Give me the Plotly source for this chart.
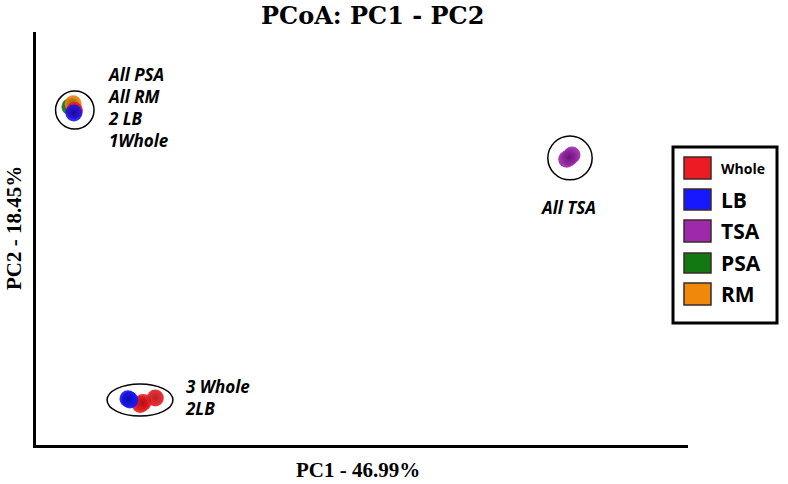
import plotly.graph_objects as go

# ---- data ----
groups = ["Whole", "LB", "TSA", "PSA", "RM"]
colors = {"Whole": "#ec1c22", "LB": "#1818ff", "TSA": "#9e2aab", "PSA": "#127812", "RM": "#f0880c"}
edge_colors = {"Whole": "#b00c10", "LB": "#0a0aa8", "TSA": "#6a1478", "PSA": "#0a4a0a", "RM": "#a85a06"}

# sample coordinates (PC1, PC2 in plot units)
pts_x = {
    "Whole": [5.9, 16.0, 16.4, 18.3],
    "LB":    [14.4, 14.1, 5.8],
    "TSA":   [81.4, 82.2, 81.8],
    "PSA":   [5.2],
    "RM":    [5.7],
}
pts_y = {
    "Whole": [81.0, 9.8, 10.3, 11.4],
    "LB":    [10.9, 11.2, 80.4],
    "TSA":   [69.2, 70.2, 69.6],
    "PSA":   [81.9],
    "RM":    [82.6],
}
draw_order = ["TSA", "PSA", "RM", "Whole", "LB"]

# cluster ellipses (x0, x1, y0, y1)
ellipses = [(3.0, 8.9, 76.5, 85.7), (78.5, 85.3, 64.2, 74.8), (10.9, 21.0, 7.0, 14.8)]

cluster_labels = ["All PSA<br>All RM<br>2 LB<br>1Whole", "All TSA", "3 Whole<br>2LB"]
label_x = [10.6, 81.6, 22.6]
label_y = [81.6, 57.4, 11.6]
label_anchor = ["left", "center", "left"]

title = "PCoA: PC1 - PC2"
xlabel = "PC1 - 46.99%"
ylabel = "PC2 - 18.45%"

fig = go.Figure()

for g in draw_order:
    fig.add_trace(go.Scatter(
        x=pts_x[g], y=pts_y[g], mode="markers", name=g, showlegend=False,
        marker=dict(size=17, color=colors[g], opacity=0.9,
                    gradient=dict(type="radial", color=edge_colors[g]),
                    line=dict(width=0)),
    ))

for (x0, x1, y0, y1) in ellipses:
    fig.add_shape(type="circle", xref="x", yref="y", x0=x0, x1=x1, y0=y0, y1=y1,
                  line=dict(color="black", width=1.5), layer="below")

for t, x, y, a in zip(cluster_labels, label_x, label_y, label_anchor):
    fig.add_annotation(x=x, y=y, xref="x", yref="y", text="<b><i>" + t + "</i></b>",
                       showarrow=False, xanchor=a, yanchor="middle", align="left",
                       font=dict(family="Open Sans", size=17, color="black"))

# ---- custom legend box ----
L, T = 36, 32
W, H = 652, 413
def px(x): return (x - L) / W
def py(y): return (T + H - y) / H

fig.add_shape(type="rect", xref="paper", yref="paper", x0=px(673), x1=px(777), y0=py(323), y1=py(147),
              line=dict(color="black", width=3), fillcolor="white")
row_top = [157, 189, 220, 253, 283]
row_bot = [179, 210, 242, 273, 305]
font_sizes = [14, 21, 21, 21, 21]
for g, t0, t1, fs in zip(groups, row_top, row_bot, font_sizes):
    fig.add_shape(type="rect", xref="paper", yref="paper", x0=px(684), x1=px(711), y0=py(t1), y1=py(t0),
                  line=dict(color="#3a2a2a", width=1.5), fillcolor=colors[g])
    fig.add_annotation(x=px(719), y=py((t0 + t1) / 2), xref="paper", yref="paper",
                       text="<b>" + g + "</b>", showarrow=False, xanchor="left", yanchor="middle",
                       font=dict(family="Open Sans", size=fs, color="black"))

# titles
fig.add_annotation(x=px(372), y=py(15), xref="paper", yref="paper", text="<b>" + title + "</b>",
                   showarrow=False, xanchor="center", yanchor="middle",
                   font=dict(family="DejaVu Serif", size=24, color="black"))
fig.add_annotation(x=px(358), y=py(470), xref="paper", yref="paper", text="<b>" + xlabel + "</b>",
                   showarrow=False, xanchor="center", yanchor="middle",
                   font=dict(family="Liberation Serif", size=21, color="black"))
fig.add_annotation(x=px(14), y=py(228), xref="paper", yref="paper", text="<b>" + ylabel + "</b>",
                   showarrow=False, xanchor="center", yanchor="middle", textangle=-90,
                   font=dict(family="Liberation Serif", size=21, color="black"))

fig.update_xaxes(range=[0, 100], showline=True, linecolor="black", linewidth=3, showgrid=False,
                 zeroline=False, showticklabels=False, ticks="")
fig.update_yaxes(range=[0, 100], showline=True, linecolor="black", linewidth=3, showgrid=False,
                 zeroline=False, showticklabels=False, ticks="")
fig.update_layout(width=788, height=484, margin=dict(l=L, r=788 - L - W, t=T, b=484 - T - H),
                  plot_bgcolor="white", paper_bgcolor="white", showlegend=False)

fig.write_html("out.html", config={"displayModeBar": False},
               post_script="document.body.style.margin='0';document.body.style.overflow='hidden';")
